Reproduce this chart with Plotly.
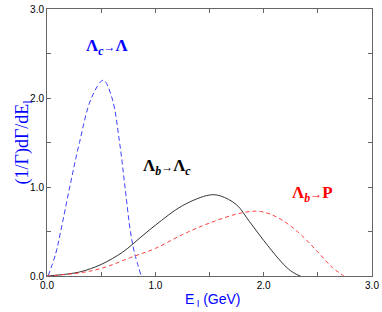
import plotly.graph_objects as go

# Λc -> Λ (blue dashed)
blue_x = [0.01, 0.08, 0.126, 0.21, 0.30, 0.41, 0.52, 0.60, 0.67, 0.72, 0.77, 0.81, 0.87]
blue_y = [0.0, 0.25, 0.5, 1.0, 1.5, 2.0, 2.2, 2.0, 1.5, 1.0, 0.5, 0.25, 0.0]

# Λb -> Λc (black solid)
black_x = [0.0, 0.1, 0.3, 0.5, 0.7, 0.85, 1.0, 1.25, 1.5, 1.6, 1.75, 1.87, 2.0, 2.14, 2.23, 2.3, 2.34]
black_y = [0.0, 0.01, 0.045, 0.13, 0.27, 0.42, 0.57, 0.79, 0.91, 0.90, 0.80, 0.61, 0.40, 0.19, 0.077, 0.02, 0.0]

# Λb -> p (red dashed)
red_x = [0.0, 0.1, 0.3, 0.5, 0.8, 1.0, 1.25, 1.5, 1.8, 1.97, 2.14, 2.32, 2.5, 2.63, 2.74]
red_y = [0.0, 0.01, 0.035, 0.085, 0.22, 0.31, 0.465, 0.595, 0.71, 0.725, 0.65, 0.49, 0.27, 0.10, 0.0]

tick_vals = [0.0, 1.0, 2.0, 3.0]
tick_text = ["0.0", "1.0", "2.0", "3.0"]

fig = go.Figure()
fig.add_trace(go.Scatter(x=blue_x, y=blue_y, mode="lines", line=dict(color="#4040ff", width=1, dash="5px,3px", shape="spline")))
fig.add_trace(go.Scatter(x=black_x, y=black_y, mode="lines", line=dict(color="#333333", width=1, shape="spline")))
fig.add_trace(go.Scatter(x=red_x, y=red_y, mode="lines", line=dict(color="#ff4040", width=1, dash="4px,3px", shape="spline")))

axis_common = dict(
    range=[0, 3], tickvals=tick_vals, ticktext=tick_text,
    ticks="inside", ticklen=4, tickcolor="#666", tickwidth=1,
    showline=True, linecolor="#666", linewidth=1, mirror="ticks",
    showgrid=False, zeroline=False, ticklabeloverflow="allow",
    tickfont=dict(family="Liberation Sans", size=10, color="black"),
    minor=dict(dtick=0.5, ticks="inside", ticklen=4, tickcolor="#666", showgrid=False),
)
fig.update_xaxes(**axis_common)
fig.update_yaxes(**axis_common)

serif = "Liberation Serif"
arrow = "<span style='font-size:12px'>→</span>"
fig.add_annotation(x=0.55, y=2.57, xref="x", yref="y", showarrow=False,
                   text="<b>Λ<sub><i>c</i></sub>" + arrow + "Λ</b>",
                   font=dict(family=serif, size=17, color="blue"))
fig.add_annotation(x=1.11, y=1.22, xref="x", yref="y", showarrow=False,
                   text="<b>Λ<sub><i>b</i></sub>" + arrow + "Λ<sub><i>c</i></sub></b>",
                   font=dict(family=serif, size=17, color="black"))
fig.add_annotation(x=2.45, y=0.92, xref="x", yref="y", showarrow=False,
                   text="<b>Λ<sub><i>b</i></sub>" + arrow + "P</b>",
                   font=dict(family=serif, size=17, color="red"))

# axis titles
fig.add_annotation(x=-0.113, y=0.503, xref="paper", yref="paper", showarrow=False, textangle=-90,
                   text="(1/Γ)dΓ/dE<sub>l</sub>",
                   font=dict(family=serif, size=18, color="blue"))
fig.add_annotation(x=0.51, y=0.0, xref="paper", yref="paper", yshift=-13, yanchor="top", showarrow=False,
                   text="E<sub> l</sub> (GeV)",
                   font=dict(family="Liberation Sans", size=14, color="blue"))

fig.update_layout(
    width=382, height=312,
    margin=dict(l=47, r=8, t=3, b=36),
    paper_bgcolor="white", plot_bgcolor="white",
    showlegend=False,
)
fig.write_html("out.html", config={"displayModeBar": False},
               post_script="document.body.style.margin='0';document.body.style.padding='0';")
